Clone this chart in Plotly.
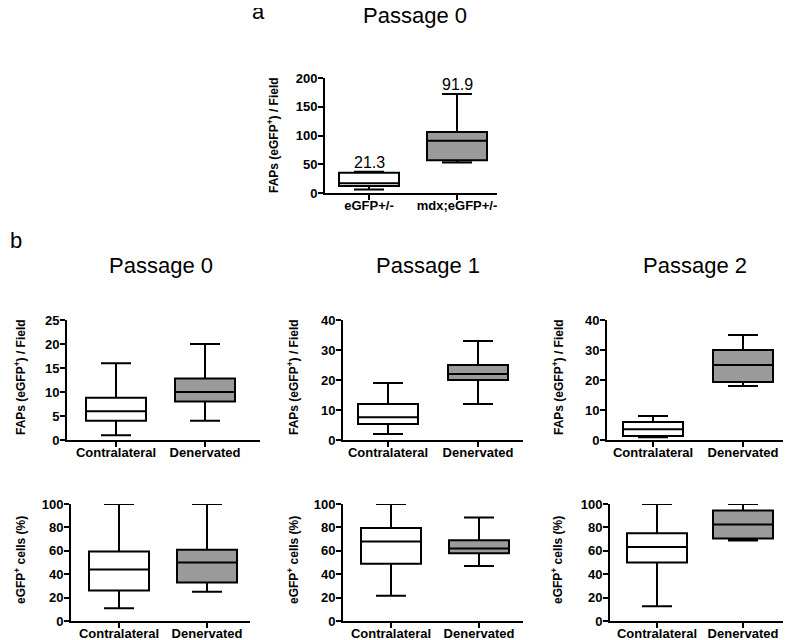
import plotly.graph_objects as go

# categories
groups_a = ["eGFP+/-", "mdx;eGFP+/-"]
groups_b = ["Contralateral", "Denervated"]
passages = ["Passage 0", "Passage 1", "Passage 2"]

# box stats: [lower whisker, q1, median, q3, upper whisker]
a_wt = [6, 12, 17, 35, 37]
a_mdx = [53, 57, 91, 106, 172]
a_means = [21.3, 91.9]

p0_field_contra = [1, 4, 6, 8.8, 16]
p0_field_den = [4, 8, 10, 12.8, 20]
p1_field_contra = [2, 5.3, 7.6, 12, 19]
p1_field_den = [12, 20, 22, 25, 33]
p2_field_contra = [0.9, 1.3, 3.6, 6, 8]
p2_field_den = [18, 19.3, 25, 30, 35]

p0_pct_contra = [11, 26, 44, 59.5, 100]
p0_pct_den = [25, 33, 50, 60.8, 100]
p1_pct_contra = [21.5, 49, 68, 79.5, 100]
p1_pct_den = [47, 58, 62, 69, 88.5]
p2_pct_contra = [12.5, 50, 63.3, 75, 100]
p2_pct_den = [68.8, 70.5, 82.5, 94.5, 100]

# the page body keeps an 8px margin, so the figure starts at (8, 8)
OFF = 8
W, H = 791, 640
FONT = "Liberation Sans"
FILLS = ["white", "#9a9a9a"]

fig = go.Figure()


def px_y(top, bottom):
    return [1 - (bottom - OFF) / H, 1 - (top - OFF) / H]


def add_panel(n, stats, labels, xpix, ydom, yrange, dtick):
    # xpix: y-axis position, two box centres, x-axis end (window pixels)
    left, c0, c1, right = xpix
    step = c1 - c0
    xdom = [(left - OFF) / W, (right - OFF) / W]
    xrange = [(left - c0) / step, 1 + (right - c1) / step]
    ax = "" if n == 1 else str(n)
    for i, s in enumerate(stats):
        fig.add_trace(go.Box(
            x=[i], lowerfence=[s[0]], q1=[s[1]], median=[s[2]],
            q3=[s[3]], upperfence=[s[4]],
            width=60 / step, whiskerwidth=0.5,
            fillcolor=FILLS[i], line=dict(color="black", width=2),
            showlegend=False, xaxis="x" + ax, yaxis="y" + ax))
    common = dict(showline=True, linecolor="black", linewidth=2,
                  ticks="outside", ticklen=5, tickwidth=2, tickcolor="black",
                  showgrid=False, zeroline=False, fixedrange=True,
                  automargin=False,
                  tickfont=dict(family=FONT, size=13, color="black",
                                weight="bold"))
    fig.update_layout(**{
        "xaxis" + ax: dict(domain=xdom, range=xrange, tickvals=[0, 1],
                           ticktext=labels, anchor="y" + ax,
                           ticklabelstandoff=-6, **common),
        "yaxis" + ax: dict(domain=ydom, range=yrange, dtick=dtick,
                           anchor="x" + ax, ticklabelstandoff=-2, **common),
    })


# panel a
add_panel(1, [a_wt, a_mdx], groups_a, (325, 369, 457, 497),
          px_y(78, 193), [0, 200], 50)

# panel b, top row (FAPs per field)
add_panel(2, [p0_field_contra, p0_field_den], groups_b, (67, 116, 205, 260),
          px_y(320, 440), [0, 25], 5)
add_panel(3, [p1_field_contra, p1_field_den], groups_b, (343, 388, 478, 523),
          px_y(320, 440), [0, 40], 10)
add_panel(4, [p2_field_contra, p2_field_den], groups_b, (607, 653, 743, 787),
          px_y(320, 440), [0, 40], 10)

# panel b, bottom row (% eGFP+ cells)
add_panel(5, [p0_pct_contra, p0_pct_den], groups_b, (71, 119, 207, 250),
          px_y(504, 621), [0, 100], 20)
add_panel(6, [p1_pct_contra, p1_pct_den], groups_b, (343, 391, 479, 523),
          px_y(504, 621), [0, 100], 20)
add_panel(7, [p2_pct_contra, p2_pct_den], groups_b, (610, 657, 743, 788),
          px_y(504, 621), [0, 100], 20)

ann = []


def paper_text(text, x, y, size, bold=False, angle=0, xanchor="center"):
    ann.append(dict(text=text, x=(x - OFF) / W, y=1 - (y - OFF) / H,
                    xref="paper", yref="paper", xanchor=xanchor,
                    yanchor="middle", showarrow=False, textangle=angle,
                    font=dict(family=FONT, size=size, color="black",
                              weight="bold" if bold else "normal")))


paper_text("a", 258, 12, 22)
paper_text("b", 8, 241, 22, xanchor="left")
paper_text(passages[0], 415, 16, 22)
for name, cx in zip(passages, [161, 428, 695]):
    paper_text(name, cx, 265, 22)

field_title = "FAPs (eGFP<sup>+</sup>) / Field"
pct_title = "eGFP<sup>+</sup> cells (%)"
paper_text(field_title, 273, 135, 12, bold=True, angle=-90)
for cx in [20, 293, 558]:
    paper_text(field_title, cx, 377, 12, bold=True, angle=-90)
for cx in [20, 293, 557]:
    paper_text(pct_title, cx, 560, 12, bold=True, angle=-90)

for i, (s, m) in enumerate(zip([a_wt, a_mdx], a_means)):
    ann.append(dict(text=f"{m}", x=i, y=s[4], xref="x", yref="y",
                    xanchor="center", yanchor="bottom", showarrow=False,
                    yshift=-1,
                    font=dict(family=FONT, size=16, color="black")))

fig.update_layout(width=W, height=H, margin=dict(l=0, r=0, t=0, b=0),
                  paper_bgcolor="white", plot_bgcolor="white",
                  annotations=ann, showlegend=False)

fig.write_html("out.html")
